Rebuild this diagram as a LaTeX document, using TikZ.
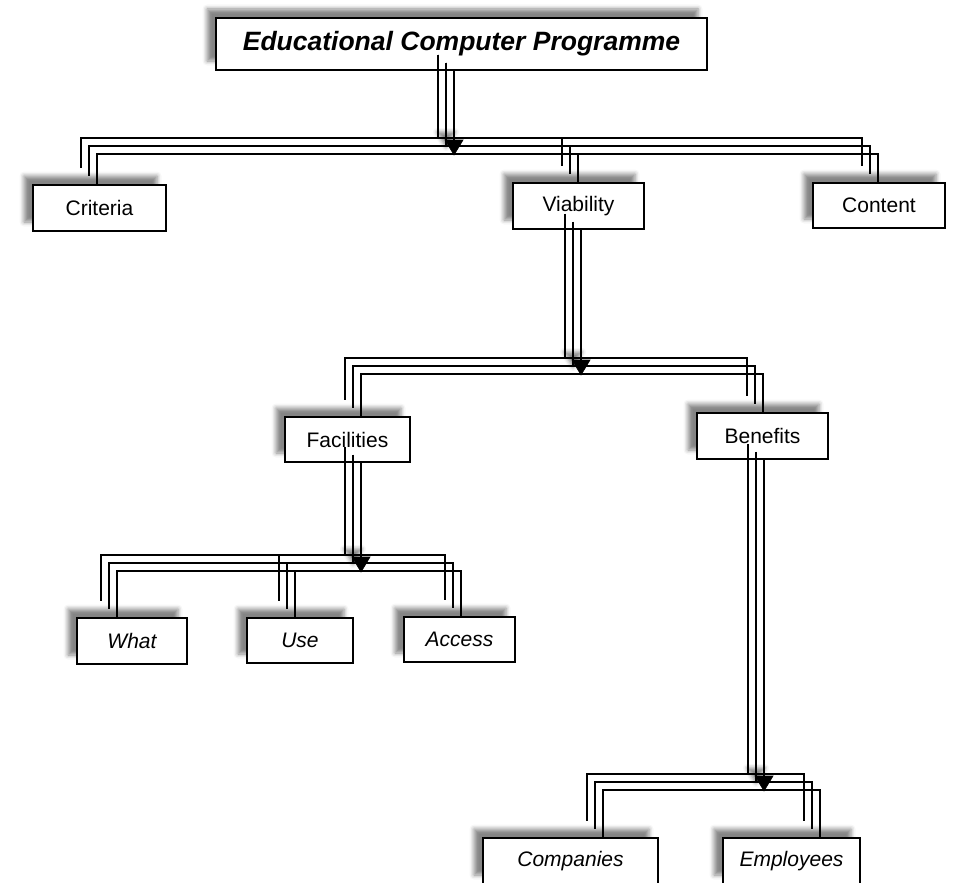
\documentclass[tikz,border=0pt]{standalone}
\usepackage{fontspec}
\setmainfont{Liberation Sans}
\usetikzlibrary{shadows.blur,calc}

\tikzset{
  box/.style={draw, line width=1.5pt, fill=white, inner sep=0pt,
    font=\fontsize{21}{24}\selectfont,
    blur shadow={shadow xshift=-9pt, shadow yshift=9pt,
                 shadow blur radius=4.5pt, shadow opacity=48}},
  link/.style={line width=1.6pt},
  tip/.style={fill=black, draw=black, line width=0.6pt, line join=miter,
    blur shadow={shadow xshift=-8pt, shadow yshift=8pt,
                 shadow blur radius=4pt, shadow opacity=48}}
}

% Three offset copies of an elbow connector:
% #1 parent, #2 x offset at parent, #3 child, #4 x offset at child, #5 bus y
\newcommand\triplelink[5]{%
  \path ([xshift=#2pt]#1.south) coordinate (tl-p)
        ([xshift=#4pt]#3.north) coordinate (tl-c)
        (0,#5) coordinate (tl-b);
  \foreach \o in {-16,-8,0}{
    \path ([shift={(\o,\o)}]tl-p) coordinate (tl-p1)
          ([shift={(\o,\o)}]tl-c) coordinate (tl-c1)
          ([shift={(\o,\o)}]tl-b) coordinate (tl-b1);
    \draw[link] (tl-p1) -- (tl-p1 |- tl-b1) -| (tl-c1);
  }}

% Filled arrow tip where the front copy meets its bus
\newcommand\droptip[3]{%
  \path ([xshift=#2pt]#1.south) coordinate (dt-p) (0,#3) coordinate (dt-b);
  \path (dt-p |- dt-b) coordinate (dt-t);
  \draw[tip] ([shift={(-9,-14)}]dt-t) -- ([shift={(9,-14)}]dt-t)
             -- ([shift={(0,1)}]dt-t) -- cycle;}

\begin{document}
\begin{tikzpicture}[x=1pt,y=-1pt]
\useasboundingbox (0,0) rectangle (956,883);

% boxes
\node[box, minimum width=491, minimum height=52,
      font=\fontsize{26.5}{30}\selectfont\bfseries\itshape] (title) at (461.5,44)
      {Educational Computer Programme};
\node[box, minimum width=133, minimum height=46] (crit) at (99.5,208) {Criteria};
\node[box, minimum width=131, minimum height=46] (via)  at (578.5,206) {Viability};
\node[box, minimum width=132, minimum height=45] (cont) at (879,205.5) {Content};
\node[box, minimum width=125, minimum height=45] (fac)  at (347.5,439.5) {Facilities};
\node[box, minimum width=131, minimum height=46] (ben)  at (762.5,436) {Benefits};
\node[box, minimum width=110, minimum height=46] (what) at (132,641) {\itshape What};
\node[box, minimum width=106, minimum height=45] (use)  at (300,640.5) {\itshape Use};
\node[box, minimum width=111, minimum height=45] (acc)  at (459.5,639.5) {\itshape Access};
\node[box, minimum width=175, minimum height=46] (comp) at (570.5,861) {\itshape Companies};
\node[box, minimum width=137, minimum height=46] (emp)  at (791.5,861) {\itshape Employees};

% connectors
\triplelink{title}{-7.5}{crit}{-2.5}{154}
\triplelink{title}{-7.5}{via}{-0.5}{154}
\triplelink{title}{-7.5}{cont}{-1}{154}
\triplelink{via}{2.5}{fac}{13.5}{374}
\triplelink{via}{2.5}{ben}{0.5}{374}
\triplelink{fac}{13.5}{what}{-15}{571}
\triplelink{fac}{13.5}{use}{-5}{571}
\triplelink{fac}{13.5}{acc}{1.5}{571}
\triplelink{ben}{1.5}{comp}{32.5}{790}
\triplelink{ben}{1.5}{emp}{28.5}{790}

% arrow tips
\droptip{title}{-7.5}{154}
\droptip{via}{2.5}{374}
\droptip{fac}{13.5}{571}
\droptip{ben}{1.5}{790}
\end{tikzpicture}
\end{document}
